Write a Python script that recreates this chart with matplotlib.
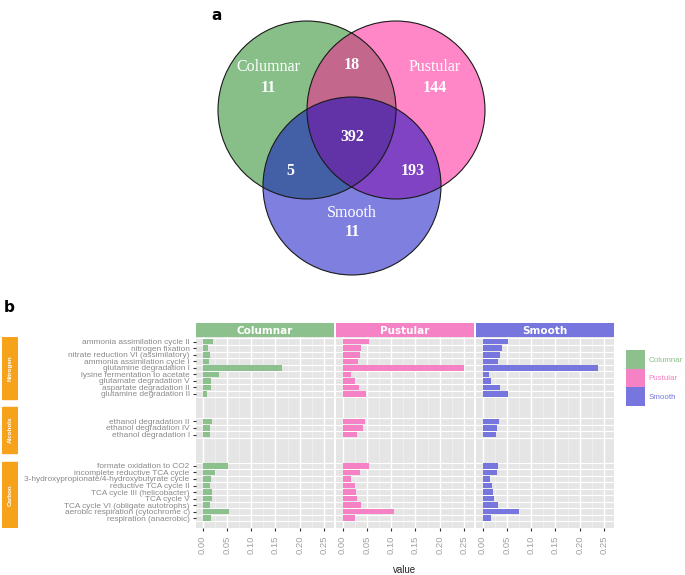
import matplotlib
matplotlib.use("Agg")
import matplotlib.pyplot as plt
from matplotlib.patches import Circle, Rectangle, Patch
import numpy as np

W, H = 685, 575

# ---- Venn data ----
venn_sets = ["Columnar", "Pustular", "Smooth"]
venn_counts = {"C": 11, "P": 144, "S": 11, "CP": 18, "CS": 5, "PS": 193, "CPS": 392}

# ---- pathway data ----
groups = ["Nitrogen", "Alcohols", "Carbon"]
pathways = {
    "Nitrogen": ["ammonia assimilation cycle II", "nitrogen fixation",
                 "nitrate reduction VI (assimilatory)", "ammonia assimilation cycle I",
                 "glutamine degradation I", "lysine fermentation to acetate",
                 "glutamate degradation V", "aspartate degradation II",
                 "glutamine degradation II"],
    "Alcohols": ["ethanol degradation II", "ethanol degradation IV",
                 "ethanol degradation I"],
    "Carbon": ["formate oxidation to CO2", "incomplete reductive TCA cycle",
               "3-hydroxypropionate/4-hydroxybutyrate cycle", "reductive TCA cycle II",
               "TCA cycle III (helicobacter)", "TCA cycle V",
               "TCA cycle VI (obligate autotrophs)", "aerobic respiration (cytochrome c)",
               "respiration (anaerobic)"],
}
columnar = [0.022, 0.011, 0.015, 0.013, 0.163, 0.034, 0.017, 0.017, 0.010,
            0.020, 0.015, 0.015,
            0.052, 0.025, 0.018, 0.016, 0.020, 0.019, 0.015, 0.054, 0.018]
pustular = [0.055, 0.037, 0.036, 0.032, 0.250, 0.018, 0.026, 0.034, 0.049,
            0.046, 0.042, 0.030,
            0.054, 0.035, 0.017, 0.025, 0.028, 0.030, 0.038, 0.105, 0.025]
smooth = [0.052, 0.041, 0.036, 0.032, 0.238, 0.0135, 0.018, 0.036, 0.052,
          0.033, 0.029, 0.028,
          0.032, 0.030, 0.015, 0.019, 0.022, 0.024, 0.031, 0.076, 0.018]
x_ticks = [0.00, 0.05, 0.10, 0.15, 0.20, 0.25]

# row positions (gaps between groups)
group_start = {"Nitrogen": 0.0, "Alcohols": 12.2, "Carbon": 19.0}
group_span = {"Nitrogen": (-0.72, 8.76), "Alcohols": (9.98, 17.0), "Carbon": (18.4, 28.5)}
labels, ypos = [], []
for g in groups:
    for i, p in enumerate(pathways[g]):
        labels.append(p)
        ypos.append(group_start[g] + i)
ypos = np.array(ypos)

bar_cols = {"Columnar": "#8cc08c", "Pustular": "#f582c4", "Smooth": "#7676de"}
series = {"Columnar": columnar, "Pustular": pustular, "Smooth": smooth}

fig = plt.figure(figsize=(W / 100, H / 100), dpi=100)
plt.rcParams["font.family"] = ["Liberation Sans", "DejaVu Sans"]

def fx(px):
    return px / W

def fy(py):
    return 1 - py / H

# ---- facet panels ----
cols = [(196, 334), (336, 474), (476, 614)]
ptop, pbot = 337, 528
axes = []
for k, (name, (x0, x1)) in enumerate(zip(venn_sets, cols)):
    ax = fig.add_axes([fx(x0), fy(pbot), fx(x1 - x0), (pbot - ptop) / H])
    ax.set_facecolor("#e5e5e5")
    for s in ax.spines.values():
        s.set_visible(False)
    ax.set_xlim(-0.0135, 0.2705)
    ax.set_ylim(28.5, -0.72)
    for xv in x_ticks:
        ax.axvline(xv, color="white", lw=1.0, zorder=1)
    for xv in np.array(x_ticks[:-1]) + 0.025:
        ax.axvline(xv, color="#f2f2f2", lw=0.5, zorder=1)
    for yv in ypos:
        ax.axhline(yv + 0.5, color="white", lw=0.8, zorder=1)
        ax.axhline(yv - 0.5, color="white", lw=0.8, zorder=1)
    ax.barh(ypos, series[name], height=0.84, color=bar_cols[name], zorder=2)
    ax.set_xticks(x_ticks)
    ax.set_xticklabels(["%.2f" % v for v in x_ticks], rotation=90,
                       fontsize=6.8, color="#a0a0a0")
    ax.tick_params(axis="x", length=2.5, width=0.8, color="#333333", pad=3)
    if k == 0:
        ax.set_yticks(ypos)
        ax.set_yticklabels(labels, fontsize=5.95, color="#8a8a8a")
        ax.tick_params(axis="y", length=2.5, width=0.8, color="#333333", pad=2)
    else:
        ax.set_yticks([])
    axes.append(ax)

    # strip
    sax = fig.add_axes([fx(x0), fy(ptop), fx(x1 - x0), (ptop - 323) / H])
    sax.set_facecolor(bar_cols[name])
    sax.set_xticks([])
    sax.set_yticks([])
    for s in sax.spines.values():
        s.set_visible(False)
    sax.text(0.5, 0.45, name, transform=sax.transAxes, ha="center", va="center",
             color="white", fontsize=7.5, fontweight="bold", family="DejaVu Sans")

axes[1].set_xlabel("value", fontsize=7, color="#222222", labelpad=8)

# group strips on the left
gax = fig.add_axes([fx(2), fy(pbot), fx(16), (pbot - ptop) / H], sharey=axes[0])
gax.set_xlim(0, 1)
gax.axis("off")
for g in groups:
    a, b = group_span[g]
    gax.add_patch(Rectangle((0, a), 1, b - a, color="#f7a21b"))
    gax.text(0.5, (a + b) / 2, g, rotation=90, ha="center", va="center",
             color="white", fontsize=4.5, fontweight="bold")

# legend
handles = [Patch(facecolor=bar_cols[n], edgecolor="none") for n in venn_sets]
leg = fig.legend(handles, venn_sets, loc="upper left",
                 bbox_to_anchor=(fx(626), fy(350)), frameon=False, fontsize=5.8,
                 handlelength=2.4, handleheight=3.2, labelspacing=0,
                 handletextpad=0.35, borderpad=0, borderaxespad=0)
for t, n in zip(leg.get_texts(), venn_sets):
    t.set_color(bar_cols[n])

# ---- Venn diagram overlay ----
vax = fig.add_axes([0, 0, 1, 1])
vax.set_xlim(0, W)
vax.set_ylim(H, 0)
vax.axis("off")
circles = {"Columnar": ((307, 110), "#138113"),
           "Pustular": ((396, 110), "#ff1191"),
           "Smooth": ((352, 186), "#0000c3")}
r = 89
for n in venn_sets:
    c, col = circles[n]
    vax.add_patch(Circle(c, r, facecolor=col, alpha=0.5, edgecolor="none"))
for n in venn_sets:
    c, col = circles[n]
    vax.add_patch(Circle(c, r, fill=False, edgecolor="#1a1a1a", lw=0.8))

serif = ["Liberation Serif", "DejaVu Serif"]
tk = dict(ha="center", va="center", color="white", family=serif, fontsize=11.5)
vax.text(268, 67, "Columnar", **tk)
vax.text(268, 88, str(venn_counts["C"]), fontweight="bold", **tk)
vax.text(435, 67, "Pustular", **tk)
vax.text(435, 88, str(venn_counts["P"]), fontweight="bold", **tk)
vax.text(352, 213, "Smooth", **tk)
vax.text(352, 232, str(venn_counts["S"]), fontweight="bold", **tk)
vax.text(352, 65, str(venn_counts["CP"]), fontweight="bold", **tk)
vax.text(290, 171, str(venn_counts["CS"]), fontweight="bold", **tk)
vax.text(413, 171, str(venn_counts["PS"]), fontweight="bold", **tk)
vax.text(352, 137, str(venn_counts["CPS"]), fontweight="bold", **tk)

vax.text(217, 15, "a", ha="center", va="center", fontsize=11, fontweight="bold",
         family="DejaVu Sans")
vax.text(9, 307, "b", ha="center", va="center", fontsize=11, fontweight="bold",
         family="DejaVu Sans")

fig.savefig("out.png", dpi=100)
